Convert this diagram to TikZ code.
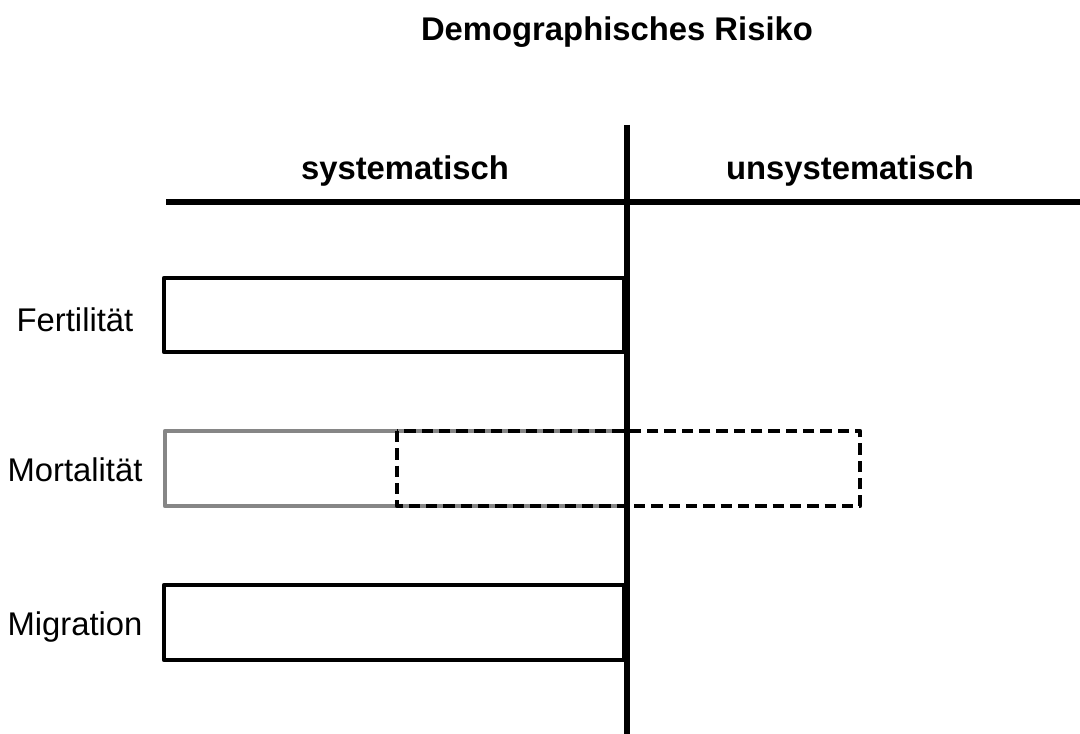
\documentclass[tikz,border=0pt]{standalone}
\usepackage{fontspec}
\setmainfont{Liberation Sans}
\begin{document}
\begin{tikzpicture}[x=0.75pt,y=-0.75pt,
  lbl/.style={font=\fontsize{24.6}{28}\selectfont, inner sep=0pt},
  head/.style={lbl, font=\fontsize{24.6}{28}\selectfont\bfseries},
  axis/.style={line width=4pt, black},
  bar/.style={line width=3.4pt, black, line join=round},
  graybar/.style={line width=3.4pt, gray!95, line join=round},
  dashbar/.style={line width=3.6pt, black, line join=round, dash pattern=on 8.5pt off 4.5pt}]
\useasboundingbox (0,0) rectangle (1080,734);
\fill[white] (0,0) rectangle (1080,734);

% headings
\node[head] (title) at (617,32) {Demographisches Risiko};
\node[head] (sys) at (405,171) {systematisch};
\node[head] (unsys) at (850,171) {unsystematisch};

% row labels
\node[lbl] (fert) at (75,320) {Fertilität};
\node[lbl] (mort) at (75,470) {Mortalität};
\node[lbl] (migr) at (75,627) {Migration};

% bars
\draw[bar] (164,278) rectangle (624,352);
\draw[graybar] (165,431) rectangle (627,506);
\draw[dashbar] (397,431) rectangle (860,506);
\draw[bar] (164,585) rectangle (624,660);

% axes
\coordinate (vtop) at (627,125);
\coordinate (vbot) at (627,734);
\coordinate (hl) at (166,202);
\coordinate (hr) at (1080,202);
\draw[axis] (vtop) -- (vbot);
\draw[axis] (hl) -- (hr);
\end{tikzpicture}
\end{document}
